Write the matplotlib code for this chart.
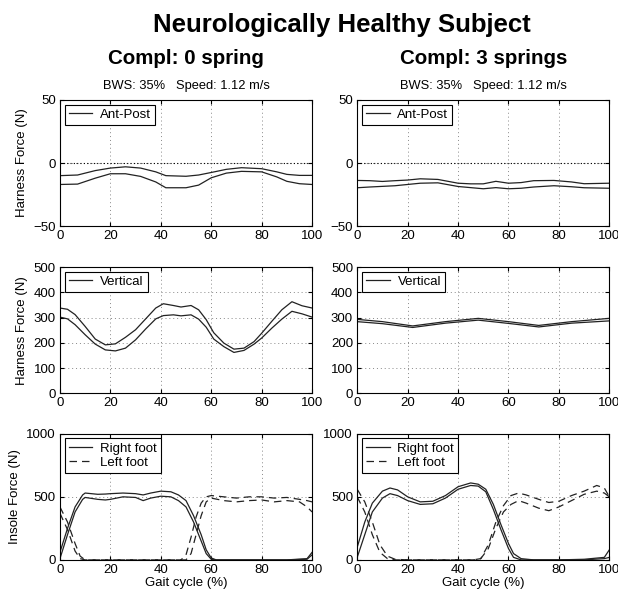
import matplotlib
matplotlib.use('Agg')
import matplotlib.pyplot as plt

plt.rcParams['font.family'] = ['Liberation Sans', 'DejaVu Sans']

# ---- data (gait cycle %, force N) ----
# Ant-Post harness force, 0 spring
ap0_x = [0, 7, 14, 20, 26, 32, 38, 42, 50, 55, 60, 66, 72, 80, 86, 90, 95, 100]
ap0_hi = [-10, -9.5, -6, -4, -3, -4, -7, -10, -10.5, -9.5, -7.5, -5, -3.7, -4.5, -7, -9, -9.8, -9.8]
ap0_lo = [-17, -16.7, -12, -8.5, -8.5, -10.6, -15, -19.6, -19.6, -17.5, -11.7, -8, -6.6, -7, -11, -14.5, -16.4, -17]
# Ant-Post harness force, 3 springs
ap3_x = [0, 5, 10, 15, 20, 25, 32, 40, 45, 50, 55, 60, 65, 70, 78, 85, 90, 100]
ap3_hi = [-13.8, -14, -14.6, -14, -13.5, -12.5, -13, -16, -16.5, -16.5, -14.5, -16, -15.5, -14, -13.8, -15, -16.4, -16]
ap3_lo = [-19.6, -19, -18.5, -18, -17, -16, -15.7, -18.6, -19.5, -20.4, -19.5, -20.4, -20, -19, -18, -18.8, -19.6, -20]

# Vertical harness force, 0 spring
v0_x = [0, 3, 6, 10, 14, 18, 22, 26, 30, 34, 38, 41, 45, 48, 52, 55, 58, 61, 65, 69, 73, 77, 80, 84, 88, 92, 96, 100]
v0_hi = [338, 333, 312, 265, 215, 192, 196, 222, 252, 295, 338, 355, 348, 342, 348, 331, 292, 240, 199, 175, 179, 205, 238, 285, 331, 363, 347, 338]
v0_lo = [302, 295, 272, 232, 195, 172, 168, 179, 212, 255, 295, 308, 311, 307, 311, 294, 262, 215, 185, 162, 170, 195, 219, 258, 294, 325, 315, 302]
# Vertical harness force, 3 springs
v3_x = [0, 10, 22, 35, 48, 60, 72, 85, 100]
v3_hi = [293, 284, 267, 284, 297, 284, 269, 284, 297]
v3_lo = [284, 276, 261, 278, 290, 277, 263, 278, 287]

# Insole force, 0 spring
ins0_rx = [0, 3, 6, 9, 10, 15, 18, 20, 25, 30, 33, 36, 40, 44, 47, 50, 53, 56, 58, 60, 62, 70, 80, 90, 98, 100]
ins0_r_hi = [60, 250, 420, 515, 530, 520, 522, 525, 530, 525, 515, 530, 545, 540, 515, 470, 350, 200, 80, 15, 0, 0, 0, 0, 5, 40]
ins0_r_lo = [10, 200, 380, 480, 495, 480, 475, 480, 500, 495, 470, 490, 505, 500, 470, 420, 300, 150, 50, 5, 0, 0, 0, 0, 10, 60]
ins0_lx = [0, 3, 6, 8, 10, 20, 30, 40, 48, 50, 52, 54, 56, 58, 60, 65, 70, 75, 80, 85, 90, 95, 98, 100]
ins0_l_hi = [420, 300, 130, 30, 0, 0, 0, 0, 0, 40, 180, 340, 450, 500, 510, 500, 490, 500, 500, 490, 495, 480, 470, 460]
ins0_l_lo = [370, 240, 70, 10, 0, 0, 0, 0, 0, 0, 50, 200, 350, 460, 490, 470, 460, 470, 475, 460, 470, 460, 420, 380]

# Insole force, 3 springs
ins3_rx = [0, 3, 6, 10, 13, 16, 20, 25, 30, 35, 40, 45, 48, 51, 54, 57, 60, 62, 65, 70, 80, 90, 98, 100]
ins3_r_hi = [100, 300, 450, 545, 570, 555, 500, 460, 465, 510, 580, 610, 600, 560, 440, 280, 130, 50, 10, 0, 0, 5, 20, 80]
ins3_r_lo = [20, 200, 380, 490, 525, 510, 470, 440, 445, 490, 560, 590, 585, 540, 400, 240, 90, 20, 0, 0, 0, 0, 10, 20]
ins3_lx = [0, 3, 6, 9, 12, 15, 20, 30, 40, 46, 49, 52, 55, 58, 61, 64, 67, 72, 76, 80, 85, 90, 95, 98, 100]
ins3_l_hi = [560, 460, 300, 120, 30, 5, 0, 0, 0, 0, 10, 120, 300, 430, 510, 530, 515, 480, 455, 465, 510, 545, 590, 570, 500]
ins3_l_lo = [500, 380, 200, 60, 10, 0, 0, 0, 0, 0, 10, 90, 250, 380, 440, 470, 450, 410, 390, 420, 470, 520, 545, 530, 500]

xticks = [0, 20, 40, 60, 80, 100]
col_titles = ['Compl: 0 spring', 'Compl: 3 springs']
subtitle = 'BWS: 35%   Speed: 1.12 m/s'

fig = plt.figure(figsize=(6.18, 5.95), dpi=100)
lefts = [0.097, 0.578]
width = 0.408
bottoms = [0.620, 0.339, 0.059]
height = 0.212
lc = '#222222'

def style(ax, yl, yt):
    ax.set_xlim(0, 100)
    ax.set_ylim(*yl)
    ax.set_xticks(xticks)
    ax.set_yticks(yt)
    ax.tick_params(direction='in', top=True, right=True, labelsize=9.5, length=3, pad=3)
    ax.grid(True, linestyle=(0, (1, 3)), color='#888888', linewidth=0.7)
    for s in ax.spines.values():
        s.set_linewidth(0.8)

def legend(ax, handles, labels):
    leg = ax.legend(handles, labels, loc='upper left', fancybox=False, edgecolor='black',
                    fontsize=9.5, handlelength=1.8, handletextpad=0.6, borderpad=0.3,
                    framealpha=1, labelspacing=0.15, borderaxespad=0.35)
    leg.get_frame().set_linewidth(0.8)

axes = [[fig.add_axes([lefts[c], bottoms[r], width, height]) for c in range(2)] for r in range(3)]

# row 1: ant-post
for c, (x, hi, lo) in enumerate([(ap0_x, ap0_hi, ap0_lo), (ap3_x, ap3_hi, ap3_lo)]):
    ax = axes[0][c]
    style(ax, (-50, 50), [-50, 0, 50])
    ax.axhline(0, color='black', linestyle=(0, (1, 2)), linewidth=0.8)
    h, = ax.plot(x, hi, color=lc, lw=0.9)
    ax.plot(x, lo, color=lc, lw=0.9)
    legend(ax, [h], ['Ant-Post'])

# row 2: vertical
for c, (x, hi, lo) in enumerate([(v0_x, v0_hi, v0_lo), (v3_x, v3_hi, v3_lo)]):
    ax = axes[1][c]
    style(ax, (0, 500), [0, 100, 200, 300, 400, 500])
    h, = ax.plot(x, hi, color=lc, lw=0.9)
    ax.plot(x, lo, color=lc, lw=0.9)
    legend(ax, [h], ['Vertical'])

# row 3: insole
ins = [(ins0_rx, ins0_r_hi, ins0_r_lo, ins0_lx, ins0_l_hi, ins0_l_lo),
       (ins3_rx, ins3_r_hi, ins3_r_lo, ins3_lx, ins3_l_hi, ins3_l_lo)]
for c, (rx, rh, rl, lx, lh, ll) in enumerate(ins):
    ax = axes[2][c]
    style(ax, (0, 1000), [0, 500, 1000])
    h1, = ax.plot(rx, rh, color=lc, lw=0.9)
    ax.plot(rx, rl, color=lc, lw=0.9)
    h2, = ax.plot(lx, lh, color=lc, lw=0.9, linestyle=(0, (6, 4)))
    ax.plot(lx, ll, color=lc, lw=0.9, linestyle=(0, (6, 4)))
    ax.set_xlabel('Gait cycle (%)', fontsize=9.5, labelpad=1)
    legend(ax, [h1, h2], ['Right foot', 'Left foot'])

axes[0][0].set_ylabel('Harness Force (N)', fontsize=9.5)
axes[1][0].set_ylabel('Harness Force (N)', fontsize=9.5)
axes[2][0].set_ylabel('Insole Force (N)', fontsize=9.5)

fig.text(0.554, 0.946, 'Neurologically Healthy Subject', ha='center', va='baseline',
         fontsize=18.5, fontweight='bold')
for c in range(2):
    xc = lefts[c] + width / 2
    fig.text(xc, 0.892, col_titles[c], ha='center', va='baseline', fontsize=14.8, fontweight='bold')
    fig.text(xc, 0.850, subtitle, ha='center', va='baseline', fontsize=9.3)

fig.savefig('out.png', dpi=100)
